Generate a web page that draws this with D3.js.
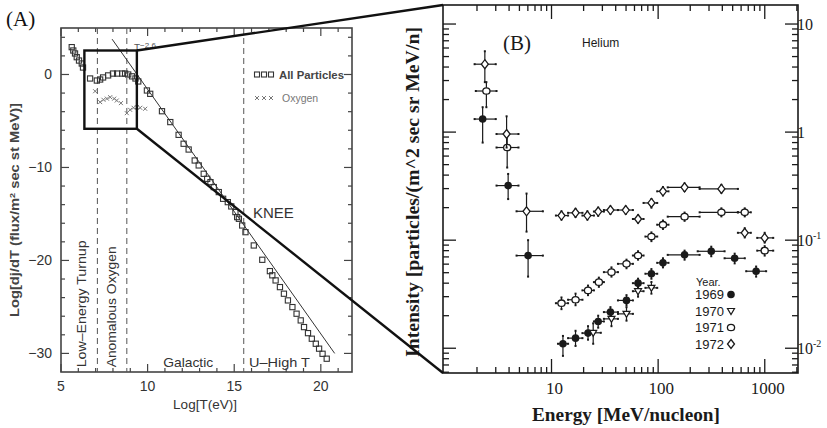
<!DOCTYPE html>
<html>
<head>
<meta charset="utf-8">
<script src="https://cdn.jsdelivr.net/npm/d3@7"></script>
<style>
  body { margin: 0; background: #fff; }
  svg { display: block; }
  .sans { font-family: "Liberation Sans", Arial, sans-serif; }
  .serif { font-family: "Liberation Serif", "Times New Roman", serif; }
</style>
</head>
<body>
<svg width="827" height="428"></svg>
<script>
// ---- panel A data: log10 T(eV) vs log10 flux ----
var allParticles = [
  [5.62, 2.94], [5.71, 2.58], [5.81, 2.26], [5.91, 1.86], [6.04, 1.5], [6.2, 1.18], [6.27, 0.75],
  [6.68, -0.43], [7.07, -0.65], [7.26, -0.54], [7.43, -0.32], [7.72, -0.1], [8.0, 0.1], [8.24, 0.1],
  [8.53, 0.1], [8.7, 0.1], [8.88, 0], [9.1, -0.2], [9.3, -0.43], [9.46, -0.75], [9.96, -1.72],
  [10.15, -2.08], [10.83, -3.95], [11.31, -5.12], [11.79, -6.49], [12.08, -7.45], [12.37, -8.07],
  [12.72, -9.25], [12.95, -9.78], [13.24, -10.68], [13.44, -11.22], [13.63, -11.58], [13.82, -12.11],
  [14.11, -12.65], [14.36, -13.37], [14.63, -13.73], [14.83, -14.19], [15.07, -14.8], [15.17, -15.34],
  [15.27, -15.52], [15.46, -16.24], [15.65, -16.96], [16.13, -18.39], [16.62, -19.93], [17.06, -21.15],
  [17.2, -21.6], [17.39, -22.15], [17.64, -22.87], [17.87, -23.58], [18.1, -24.3], [18.36, -25.02],
  [18.6, -25.73], [18.84, -26.45], [19.03, -27.17], [19.26, -27.82], [19.48, -28.42], [19.71, -28.96],
  [19.9, -29.49], [20.1, -30.04], [20.34, -30.57]
];
var oxygen = [
  [6.97, -1.8], [7.26, -2.97], [7.45, -2.72], [7.65, -2.6], [7.84, -2.44], [8.07, -2.6], [8.22, -2.8],
  [8.46, -3.08], [8.8, -4.16], [8.99, -3.8], [9.19, -3.58], [9.38, -3.51], [9.57, -3.58], [9.86, -3.69]
];
var powerLaw = [[7.95, 3.8], [20.8, -30]];
var regionEdges = [7.1, 8.8, 15.55];
var zoomBox = [[6.35, 2.58], [9.38, -5.84]];
var aXTicks = [5, 10, 15, 20];
var aYTicks = [0, -10, -20, -30];
var aXMinor = [6, 7, 8, 9, 11, 12, 13, 14, 16, 17, 18, 19, 21];
var aYMinor = [4, 2, -2, -4, -6, -8, -12, -14, -16, -18, -22, -24, -26, -28];
var regionLabels = [
  { text: "Low\u2013Energy Turnup", x: 6.45, y: -31.5, rot: true, len: 127 },
  { text: "Anomalous Oxygen", x: 8.2, y: -31.5, rot: true, len: 121 },
  { text: "Galactic", x: 10.9, y: -31.5, rot: false, len: 50 },
  { text: "U\u2013High T", x: 15.85, y: -31.5, rot: false, len: 61 }
];

// ---- panel B data: helium spectra [E, Elo, Ehi, I, Ilo, Ihi] ----
var he1969 = [
  [2.26, 1.9, 3.0, 1.32, 0.8, 1.7], [3.92, 3.05, 4.9, 0.32, 0.24, 0.41], [6.03, 4.7, 8.3, 0.072, 0.046, 0.1],
  [12.8, 11.5, 14.3, 0.011, 0.0085, 0.013], [16.8, 14.3, 19.5, 0.0124, 0.0105, 0.0145],
  [22, 19.5, 25, 0.0138, 0.012, 0.016], [27.4, 25, 31, 0.0177, 0.0155, 0.02],
  [35.7, 31, 42, 0.0216, 0.019, 0.024], [50.5, 42, 58, 0.0277, 0.025, 0.031],
  [64.8, 58, 73, 0.040, 0.036, 0.044], [86.5, 76, 98, 0.0489, 0.044, 0.054],
  [111, 98, 125, 0.0617, 0.056, 0.068], [177, 123, 245, 0.0731, 0.066, 0.08],
  [315, 235, 420, 0.0789, 0.071, 0.087], [522, 420, 650, 0.068, 0.061, 0.075],
  [830, 670, 1030, 0.0516, 0.046, 0.057]
];
var he1970 = [
  [24.6, 21, 29, 0.0139, 0.011, 0.017], [36.5, 31, 42, 0.0187, 0.016, 0.022],
  [50.5, 42, 58, 0.0208, 0.018, 0.024], [64.8, 58, 73, 0.0337, 0.03, 0.038],
  [86.5, 76, 98, 0.0362, 0.032, 0.041]
];
var he1971 = [
  [2.45, 1.95, 3.05, 2.4, 1.7, 2.9], [3.84, 3.05, 4.9, 0.72, 0.47, 0.96],
  [12.4, 11, 14.3, 0.0261, 0.023, 0.0295], [16.8, 14.3, 19.5, 0.0281, 0.025, 0.032],
  [22, 19.5, 25, 0.0343, 0.031, 0.038], [27.8, 25, 31, 0.0409, 0.037, 0.045],
  [36.5, 31, 42, 0.0506, 0.046, 0.056], [50.5, 42, 58, 0.0604, 0.055, 0.066],
  [64.8, 58, 73, 0.0721, 0.066, 0.079], [86.5, 76, 98, 0.108, 0.098, 0.118],
  [111, 98, 125, 0.139, 0.127, 0.152], [177, 123, 245, 0.165, 0.151, 0.18],
  [392, 245, 560, 0.181, 0.166, 0.197], [649, 560, 740, 0.181, 0.166, 0.197],
  [998, 850, 1200, 0.080, 0.072, 0.088]
];
var he1972 = [
  [2.37, 1.9, 3.0, 4.25, 2.9, 5.6], [3.79, 3.05, 4.9, 0.96, 0.72, 1.4], [5.83, 4.7, 8.3, 0.185, 0.12, 0.27],
  [12.4, 11, 14.3, 0.169, 0.155, 0.185], [16.8, 14.3, 19.5, 0.179, 0.164, 0.195],
  [21.7, 19.5, 25, 0.169, 0.155, 0.185], [27.4, 25, 31, 0.184, 0.168, 0.2],
  [35.7, 31, 42, 0.19, 0.175, 0.205], [49.7, 42, 58, 0.19, 0.175, 0.205],
  [64.8, 58, 73, 0.157, 0.145, 0.17], [86.5, 73, 98, 0.221, 0.2, 0.24],
  [111, 98, 125, 0.283, 0.26, 0.31], [177, 123, 245, 0.308, 0.285, 0.335],
  [392, 245, 560, 0.298, 0.275, 0.325], [649, 560, 740, 0.117, 0.106, 0.129],
  [998, 850, 1200, 0.105, 0.095, 0.117]
];
var years = ["1969", "1970", "1971", "1972"];
var yearSymbols = ["filled", "triangle", "circle", "diamond"];
var bXTicks = [10, 100, 1000];
var bYTicks = [10, 1, 0.1, 0.01];
var bYTickLabels = [["10", ""], ["1", ""], ["10", "-1"], ["10", "-2"]];

document.addEventListener("DOMContentLoaded", function () {

  var svg = d3.select("svg");
  var ink = "#1a1a1a";

  // ================= Panel A =================
  var xA = d3.scaleLinear().domain([5, 21.8]).range([61, 352]);
  var yA = d3.scaleLinear().domain([-32, 5]).range([372, 28]);
  var gA = svg.append("g");

  gA.append("rect")
    .attr("x", xA(5)).attr("y", yA(5))
    .attr("width", xA(21.8) - xA(5)).attr("height", yA(-32) - yA(5))
    .attr("fill", "none").attr("stroke", "#444").attr("stroke-width", 1.6);

  // ticks on all four sides, pointing inward
  function aTicksX(vals, len) {
    vals.forEach(function (v) {
      gA.append("line").attr("x1", xA(v)).attr("x2", xA(v))
        .attr("y1", yA(-32)).attr("y2", yA(-32) - len).attr("stroke", "#444").attr("stroke-width", 1.2);
      gA.append("line").attr("x1", xA(v)).attr("x2", xA(v))
        .attr("y1", yA(5)).attr("y2", yA(5) + len).attr("stroke", "#444").attr("stroke-width", 1.2);
    });
  }
  function aTicksY(vals, len) {
    vals.forEach(function (v) {
      gA.append("line").attr("y1", yA(v)).attr("y2", yA(v))
        .attr("x1", xA(5)).attr("x2", xA(5) + len).attr("stroke", "#444").attr("stroke-width", 1.2);
      gA.append("line").attr("y1", yA(v)).attr("y2", yA(v))
        .attr("x1", xA(21.8)).attr("x2", xA(21.8) - len).attr("stroke", "#444").attr("stroke-width", 1.2);
    });
  }
  aTicksX(aXTicks, 8);
  aTicksX(aXMinor, 4);
  aTicksY(aYTicks, 8);
  aTicksY(aYMinor, 4);

  gA.selectAll("text.xt").data(aXTicks).enter().append("text")
    .attr("class", "sans").attr("x", function (d) { return xA(d); }).attr("y", 391)
    .attr("text-anchor", "middle").attr("font-size", 14).attr("fill", "#333")
    .text(function (d) { return d; });
  gA.selectAll("text.yt").data(aYTicks).enter().append("text")
    .attr("class", "sans").attr("x", 52).attr("y", function (d) { return yA(d) + 5; })
    .attr("text-anchor", "end").attr("font-size", 14).attr("fill", "#333")
    .text(function (d) { return d < 0 ? "\u2212" + (-d) : d; });

  gA.append("text").attr("class", "sans")
    .attr("x", 205).attr("y", 409).attr("text-anchor", "middle")
    .attr("font-size", 13.5).attr("fill", "#333").text("Log[T(eV)]");

  var yl = gA.append("text").attr("class", "sans")
    .attr("transform", "translate(19,210) rotate(-90)")
    .attr("text-anchor", "middle").attr("font-size", 13).attr("font-weight", "bold").attr("fill", "#444")
    .attr("textLength", 214).attr("lengthAdjust", "spacingAndGlyphs");
  yl.append("tspan").text("Log[dj/dT (flux/m");
  yl.append("tspan").attr("dy", -4).attr("font-size", 8).text("2");
  yl.append("tspan").attr("dy", 4).text(" sec st MeV)]");

  // region boundaries
  gA.selectAll("line.edge").data(regionEdges).enter().append("line")
    .attr("x1", function (d) { return xA(d); }).attr("x2", function (d) { return xA(d); })
    .attr("y1", yA(5)).attr("y2", yA(-32))
    .attr("stroke", "#555").attr("stroke-width", 1).attr("stroke-dasharray", "6,4");

  regionLabels.forEach(function (r) {
    var t = gA.append("text").attr("class", "sans").attr("font-size", 13.5).attr("fill", "#333")
      .attr("textLength", r.len).attr("lengthAdjust", "spacingAndGlyphs").text(r.text);
    if (r.rot) {
      t.attr("transform", "translate(" + xA(r.x) + "," + yA(r.y) + ") rotate(-90)");
    } else {
      t.attr("x", xA(r.x)).attr("y", yA(r.y));
    }
  });

  // power law guide
  gA.append("line")
    .attr("x1", xA(powerLaw[0][0])).attr("y1", yA(powerLaw[0][1]))
    .attr("x2", xA(powerLaw[1][0])).attr("y2", yA(powerLaw[1][1]))
    .attr("stroke", "#333").attr("stroke-width", 1);
  var tl = gA.append("text").attr("class", "sans").attr("x", 134).attr("y", 52)
    .attr("font-size", 10).attr("fill", "#555");
  tl.append("tspan").text("T");
  tl.append("tspan").attr("dy", -4).attr("font-size", 8).text("\u22122.6");

  // data
  gA.selectAll("rect.pt").data(allParticles).enter().append("rect")
    .attr("x", function (d) { return xA(d[0]) - 2.6; })
    .attr("y", function (d) { return yA(d[1]) - 2.6; })
    .attr("width", 5.2).attr("height", 5.2)
    .attr("fill", "none").attr("stroke", "#333").attr("stroke-width", 1.1);

  function cross(g, cx, cy) {
    g.append("path")
      .attr("d", "M" + (cx - 2) + "," + (cy - 2) + "L" + (cx + 2) + "," + (cy + 2) +
        "M" + (cx - 2) + "," + (cy + 2) + "L" + (cx + 2) + "," + (cy - 2))
      .attr("stroke", "#777").attr("stroke-width", 1);
  }
  oxygen.forEach(function (d) { cross(gA, xA(d[0]), yA(d[1])); });

  // legend
  [257, 264, 271].forEach(function (px) {
    gA.append("rect").attr("x", px - 2.5).attr("y", 72).attr("width", 5).attr("height", 5)
      .attr("fill", "none").attr("stroke", "#333").attr("stroke-width", 1.1);
    cross(gA, px, 98);
  });
  gA.append("text").attr("class", "sans").attr("x", 279).attr("y", 79)
    .attr("font-size", 11).attr("font-weight", "bold").attr("fill", "#444")
    .attr("textLength", 65).attr("lengthAdjust", "spacingAndGlyphs").text("All Particles");
  gA.append("text").attr("class", "sans").attr("x", 282).attr("y", 102)
    .attr("font-size", 10.5).attr("fill", "#777").text("Oxygen");

  gA.append("text").attr("class", "sans").attr("x", 253).attr("y", 218)
    .attr("font-size", 15).attr("fill", "#333").text("KNEE");

  gA.append("text").attr("class", "serif").attr("x", 6).attr("y", 26)
    .attr("font-size", 21).attr("fill", "#111").text("(A)");

  // ================= Panel B =================
  var xB = d3.scaleLog().domain([0.96, 2050]).range([443, 798]);
  var yB = d3.scaleLog().domain([0.0059, 15]).range([373, 5]);
  var gB = svg.append("g");

  gB.append("rect")
    .attr("x", xB(0.96)).attr("y", yB(15))
    .attr("width", xB(2050) - xB(0.96)).attr("height", yB(0.0059) - yB(15))
    .attr("fill", "none").attr("stroke", ink).attr("stroke-width", 1.6);

  var xMinor = [], yMinor = [];
  [1, 10, 100, 1000].forEach(function (dec) {
    for (var k = 2; k <= 9; k++) if (dec * k <= 2050) xMinor.push(dec * k);
  });
  [0.001, 0.01, 0.1, 1].forEach(function (dec) {
    for (var k = 2; k <= 9; k++) if (dec * k >= 0.0059 && dec * k <= 15) yMinor.push(dec * k);
  });

  function bTicksX(vals, len) {
    vals.forEach(function (v) {
      gB.append("line").attr("x1", xB(v)).attr("x2", xB(v))
        .attr("y1", yB(0.0059)).attr("y2", yB(0.0059) - len).attr("stroke", ink).attr("stroke-width", 1.3);
      gB.append("line").attr("x1", xB(v)).attr("x2", xB(v))
        .attr("y1", yB(15)).attr("y2", yB(15) + len).attr("stroke", ink).attr("stroke-width", 1.3);
    });
  }
  function bTicksY(vals, len) {
    vals.forEach(function (v) {
      gB.append("line").attr("y1", yB(v)).attr("y2", yB(v))
        .attr("x1", xB(0.96)).attr("x2", xB(0.96) + len).attr("stroke", ink).attr("stroke-width", 1.3);
      gB.append("line").attr("y1", yB(v)).attr("y2", yB(v))
        .attr("x1", xB(2050)).attr("x2", xB(2050) - len).attr("stroke", ink).attr("stroke-width", 1.3);
    });
  }
  bTicksX(bXTicks, 14);
  bTicksX(xMinor, 6);
  bTicksY(bYTicks, 13);
  bTicksY(yMinor, 6);

  gB.selectAll("text.bxt").data(bXTicks).enter().append("text")
    .attr("class", "serif").attr("x", function (d) { return xB(d) + 3; }).attr("y", 394)
    .attr("text-anchor", "middle").attr("font-size", 17).attr("fill", ink)
    .text(function (d) { return d; });

  bYTicks.forEach(function (v, i) {
    var t = gB.append("text").attr("class", "serif").attr("x", 797).attr("y", yB(v) + 6)
      .attr("font-size", 16).attr("fill", ink);
    t.append("tspan").text(bYTickLabels[i][0]);
    if (bYTickLabels[i][1]) t.append("tspan").attr("dy", -7).attr("font-size", 10).text(bYTickLabels[i][1]);
  });

  gB.append("text").attr("class", "serif")
    .attr("x", 626).attr("y", 421).attr("text-anchor", "middle")
    .attr("font-size", 18.5).attr("font-weight", "bold").attr("fill", ink)
    .attr("textLength", 188).attr("lengthAdjust", "spacingAndGlyphs")
    .text("Energy [MeV/nucleon]");
  gB.append("text").attr("class", "serif")
    .attr("transform", "translate(419,192) rotate(-90)").attr("text-anchor", "middle")
    .attr("font-size", 18.5).attr("font-weight", "bold").attr("fill", ink)
    .attr("textLength", 330).attr("lengthAdjust", "spacingAndGlyphs")
    .text("Intensity [particles/(m^2 sec sr MeV/n]");

  gB.append("text").attr("class", "serif").attr("x", 503).attr("y", 50)
    .attr("font-size", 21).attr("fill", ink).text("(B)");
  gB.append("text").attr("class", "sans").attr("x", 582).attr("y", 47)
    .attr("font-size", 12).attr("fill", ink).text("Helium");

  function symbol(g, kind, cx, cy) {
    if (kind === "filled") {
      g.append("circle").attr("cx", cx).attr("cy", cy).attr("r", 3.8).attr("fill", ink);
    } else if (kind === "circle") {
      g.append("ellipse").attr("cx", cx).attr("cy", cy).attr("rx", 3.6).attr("ry", 3.2)
        .attr("fill", "#fff").attr("stroke", ink).attr("stroke-width", 1.3);
    } else if (kind === "triangle") {
      g.append("path").attr("d", "M" + (cx - 3.5) + "," + (cy - 2.5) + "L" + (cx + 3.5) + "," + (cy - 2.5) + "L" + cx + "," + (cy + 3.5) + "Z")
        .attr("fill", "#fff").attr("stroke", ink).attr("stroke-width", 1.2);
    } else {
      g.append("path").attr("d", "M" + cx + "," + (cy - 4.5) + "L" + (cx + 3.5) + "," + cy + "L" + cx + "," + (cy + 4.5) + "L" + (cx - 3.5) + "," + cy + "Z")
        .attr("fill", "#fff").attr("stroke", ink).attr("stroke-width", 1.3);
    }
  }

  [he1969, he1970, he1971, he1972].forEach(function (series, si) {
    var g = gB.append("g");
    series.forEach(function (d) {
      g.append("line").attr("x1", xB(d[1])).attr("x2", xB(d[2]))
        .attr("y1", yB(d[3])).attr("y2", yB(d[3])).attr("stroke", ink).attr("stroke-width", 1.2);
      g.append("line").attr("x1", xB(d[0])).attr("x2", xB(d[0]))
        .attr("y1", yB(d[4])).attr("y2", yB(d[5])).attr("stroke", ink).attr("stroke-width", 1.2);
      [[xB(d[1]), yB(d[3])], [xB(d[2]), yB(d[3])], [xB(d[0]), yB(d[4])], [xB(d[0]), yB(d[5])]].forEach(function (p) {
        g.append("rect").attr("x", p[0] - 1).attr("y", p[1] - 1).attr("width", 2).attr("height", 2).attr("fill", ink);
      });
      symbol(g, yearSymbols[si], xB(d[0]), yB(d[3]));
    });
  });

  // legend
  gB.append("text").attr("class", "sans").attr("x", 696).attr("y", 286)
    .attr("font-size", 11).attr("fill", ink).text("Year.");
  years.forEach(function (yr, i) {
    var ly = 299 + i * 16.5;
    gB.append("text").attr("class", "sans").attr("x", 695).attr("y", ly)
      .attr("font-size", 13).attr("fill", ink).text(yr);
    symbol(gB, yearSymbols[i], 731, ly - 4.5);
  });

  // ================= zoom connectors =================
  svg.append("rect")
    .attr("x", xA(zoomBox[0][0])).attr("y", yA(zoomBox[0][1]))
    .attr("width", xA(zoomBox[1][0]) - xA(zoomBox[0][0]))
    .attr("height", yA(zoomBox[1][1]) - yA(zoomBox[0][1]))
    .attr("fill", "none").attr("stroke", "#111").attr("stroke-width", 2.4);
  svg.append("line")
    .attr("x1", xA(zoomBox[1][0])).attr("y1", yA(zoomBox[0][1]))
    .attr("x2", xB(0.96)).attr("y2", yB(15))
    .attr("stroke", "#111").attr("stroke-width", 2.4);
  svg.append("line")
    .attr("x1", xA(zoomBox[1][0])).attr("y1", yA(zoomBox[1][1]))
    .attr("x2", xB(0.96)).attr("y2", yB(0.0059))
    .attr("stroke", "#111").attr("stroke-width", 2.4);
});
</script>
</body>
</html>
